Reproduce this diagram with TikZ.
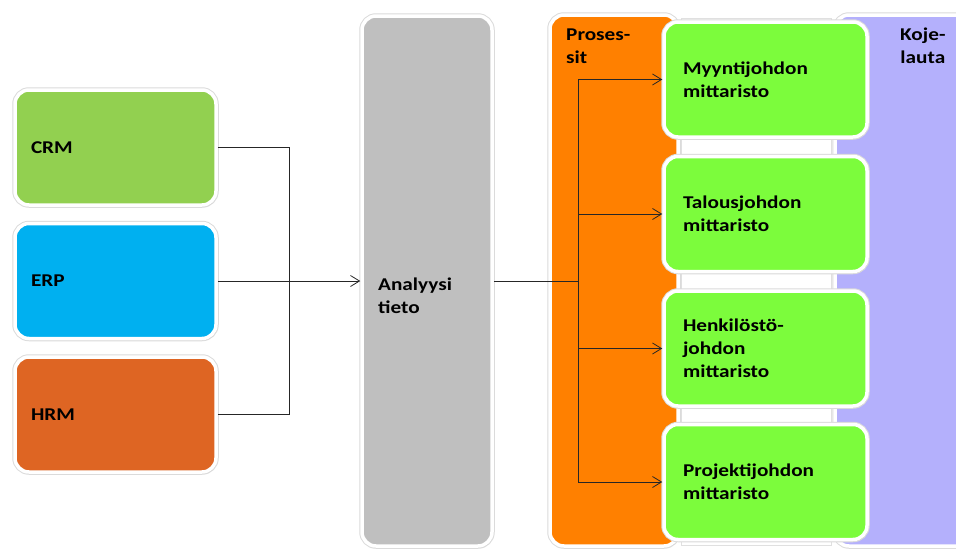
\documentclass[tikz,border=0pt]{standalone}
\usepackage{fontspec}
\setmainfont{Carlito}[FakeStretch=1.18]
\usetikzlibrary{arrows.meta,shadows}
\definecolor{crmgreen}{HTML}{92D050}
\definecolor{erpblue}{HTML}{00B0F0}
\definecolor{hrmorange}{HTML}{DE6523}
\definecolor{anagray}{HTML}{BFBFBF}
\definecolor{procorange}{HTML}{FF8000}
\definecolor{metgreen}{HTML}{7CFC3C}
\definecolor{dashpurple}{HTML}{B4B0FC}
\begin{document}
\begin{tikzpicture}[x=1pt,y=-1pt,
  txt/.style={font=\fontsize{18}{23}\selectfont\bfseries, text=black},
  box/.style={rectangle, rounded corners=14pt, draw=white, line width=3.5pt,
    preaction={draw=black!14, line width=5.5pt},
    drop shadow={shadow xshift=1pt, shadow yshift=-1.5pt, opacity=0.15, fill=black},
    inner sep=0pt, txt},
  srcbox/.style={box, minimum height=115pt, text width=169pt, inner xsep=16pt, align=left},
  metbox/.style={box, fill=metgreen, minimum height=115pt, text width=165pt, inner xsep=19pt, align=left},
  colbox/.style={box},
  conn/.style={draw=black!85, line width=0.8pt},
  arr/.style={conn, -{Straight Barb[length=9pt,width=11pt]}}
]
\useasboundingbox (0,0) rectangle (956,549);
\fill[white] (0,0) rectangle (956,549);

% source systems
\node[srcbox, fill=crmgreen] (crm) at (115.5,147.5) {CRM};
\node[srcbox, fill=erpblue] (erp) at (115.5,281) {ERP};
\node[srcbox, fill=hrmorange] (hrm) at (115.5,414.5) {HRM};

% analysis column
\node[colbox, fill=anagray, minimum width=130pt, minimum height=530pt] (ana) at (427,281) {};
\node[txt, anchor=west, align=left, inner sep=0pt] (anatxt) at (378,296) {Analyysi\\tieto};

% process, white middle panel and dashboard columns
\node[colbox, fill=dashpurple, minimum width=160pt, minimum height=531pt] (dash) at (915,280.5) {};
\node[rectangle, fill=white, draw=black!12, line width=1pt, minimum width=150pt, minimum height=527pt] (mid) at (756,281.5) {};
\node[colbox, fill=procorange, minimum width=128pt, minimum height=531pt] (proc) at (614,280.5) {};
\node[txt, anchor=west, align=left, inner sep=0pt] (proctxt) at (566,46) {Proses-\\sit};
\node[txt, anchor=west, align=center, inner sep=0pt] (dashtxt) at (900,46) {Koje-\\lauta};

% metric boxes
\node[metbox] (m1) at (765.5,79.5) {Myyntijohdon\\mittaristo};
\node[metbox] (m2) at (765.5,214) {Talousjohdon\\mittaristo};
\node[metbox] (m3) at (765.5,348.5) {Henkilöstö-\\johdon\\mittaristo};
\node[metbox] (m4) at (765.5,482) {Projektijohdon\\mittaristo};

% connectors left
\coordinate (join) at (289,281);
\draw[conn] (crm.east) -| (join);
\draw[conn] (hrm.east) -| (join);
\draw[arr] (erp.east) -- (ana.west);

% connectors right
\coordinate (bus) at (578,281);
\draw[conn] (ana.east) -- (bus);
\draw[arr] (bus) |- (m1.west);
\draw[arr] (bus) |- (m2.west);
\draw[arr] (bus) |- (m3.west);
\draw[arr] (bus) |- (m4.west);
\end{tikzpicture}
\end{document}
